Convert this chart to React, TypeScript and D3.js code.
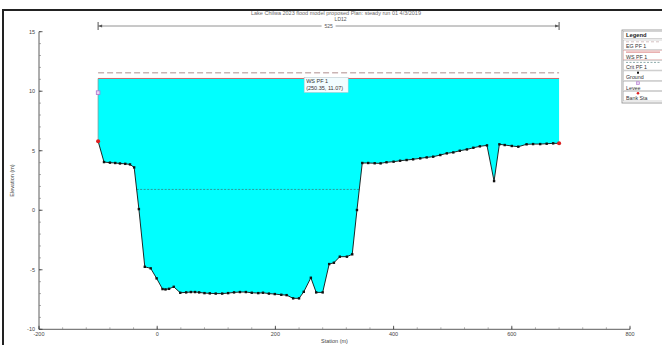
import React from "react";
import * as d3 from "d3";

// Cross-section survey: station (m) and ground elevation (m)
const groundStation = [
  -100, -90, -80, -71, -63, -54, -46, -39, -31, -21, -11, -1, 9, 14, 20, 28, 39, 49, 57, 64, 71, 80, 89, 99,
  110, 120, 130, 140, 150, 160, 171, 179, 189, 199, 210, 219, 230, 240, 248, 260, 269, 280, 291, 299, 309,
  321, 330, 338, 347, 357, 368, 378, 388, 400, 411, 422, 433, 445, 456, 467, 479, 490, 501, 512, 524, 535,
  546, 558, 570, 579, 588, 600, 611, 625, 636, 648, 659, 670, 680,
];
const groundElev = [
  5.8, 4.05, 4.0, 3.97, 3.93, 3.9, 3.85, 3.6, 0.1, -4.75, -4.88, -5.72, -6.62, -6.65, -6.6, -6.43, -6.93,
  -6.9, -6.87, -6.87, -6.9, -6.96, -6.98, -7.0, -7.0, -6.96, -6.9, -6.87, -6.87, -6.93, -6.96, -6.93, -7.0,
  -7.04, -7.1, -7.13, -7.4, -7.4, -6.85, -5.67, -6.9, -6.9, -4.52, -4.41, -3.9, -3.9, -3.7, 0.02, 3.97,
  3.97, 3.95, 3.94, 4.03, 4.08, 4.16, 4.22, 4.28, 4.36, 4.44, 4.5, 4.64, 4.78, 4.86, 5.0, 5.11, 5.25, 5.37,
  5.45, 2.45, 5.54, 5.48, 5.4, 5.34, 5.54, 5.56, 5.56, 5.59, 5.62, 5.62,
];

// Profile results
const wsElev = 11.07;
const egElev = 11.55;
const critElev = 1.75;
const probeStation = 250.35;

// Markers
const bankStations = [-100, 680];
const leveeStation = [-100];
const leveeElev = [9.88];

// Axes
const xTicks = [-200, 0, 200, 400, 600, 800];
const yTicks = [-10, -5, 0, 5, 10, 15];

const legendItems = ["EG PF 1", "WS PF 1", "Crit PF 1", "Ground", "Levee", "Bank Sta"];

const titleText = "Lake Chilwa 2023 flood model proposed       Plan: steady run 01   4/3/2019";
const reachLabel = "LD12";
const widthLabel = "525";

const FONT = "'Liberation Sans', Arial, sans-serif";

export default function App() {
  const x = d3.scaleLinear().domain([-200, 800]).range([39, 630]);
  const y = d3.scaleLinear().domain([-10, 15]).range([329.3, 31.7]);

  const ground = groundStation.map((s, i) => ({ s, e: groundElev[i] }));
  const first = ground[0];
  const last = ground[ground.length - 1];

  const waterArea = d3
    .area<{ s: number; e: number }>()
    .x((d) => x(d.s))
    .y0((d) => y(d.e))
    .y1(() => y(wsElev))(ground) as string;

  const groundLine = d3
    .line<{ s: number; e: number }>()
    .x((d) => x(d.s))
    .y((d) => y(d.e))(ground) as string;

  // where the critical depth line meets the channel banks
  const crossings: number[] = [];
  for (let i = 1; i < ground.length; i++) {
    const a = ground[i - 1];
    const b = ground[i];
    if ((a.e - critElev) * (b.e - critElev) < 0) {
      crossings.push(a.s + ((critElev - a.e) / (b.e - a.e)) * (b.s - a.s));
    }
  }
  const critStart = crossings[0];
  const critEnd = crossings[crossings.length - 1];

  const xMinor = d3.range(-200, 801, 40);
  const yMinor = d3.range(-10, 15.01, 1);

  const dimY = 26;
  const dimX0 = x(first.s);
  const dimX1 = x(last.s);
  const dimMid = (dimX0 + dimX1) / 2;

  return (
    <div style={{ position: "fixed", left: 0, top: 0, width: 662, height: 345, background: "#fff" }}>
      <svg width={662} height={345} style={{ display: "block", fontFamily: FONT }}>
        <rect x={0} y={0} width={662} height={345} fill="#fff" />

        {/* window frame */}
        <line x1={2} x2={662} y1={10} y2={10} stroke="#222" strokeWidth={2} />
        <line x1={3} x2={3} y1={10} y2={345} stroke="#222" strokeWidth={2} />

        {/* title */}
        <text x={336} y={15} fontSize={5.5} fill="#6a6a6a" textAnchor="middle">
          {titleText}
        </text>

        {/* reach name and width dimension */}
        <text x={dimMid + 12} y={21} fontSize={5} fill="#555" textAnchor="middle">
          {reachLabel}
        </text>
        <line x1={dimX0} x2={dimX1} y1={dimY} y2={dimY} stroke="#777" strokeWidth={0.8} />
        <line x1={dimX0} x2={dimX0} y1={dimY - 4} y2={dimY + 4} stroke="#555" strokeWidth={1} />
        <line x1={dimX1} x2={dimX1} y1={dimY - 4} y2={dimY + 4} stroke="#555" strokeWidth={1} />
        <path d={`M${dimX0},${dimY} l4,-1.5 l0,3 z`} fill="#555" />
        <path d={`M${dimX1},${dimY} l-4,-1.5 l0,3 z`} fill="#555" />
        <rect x={dimMid - 7} y={dimY - 3} width={14} height={6} fill="#fff" />
        <text x={dimMid} y={dimY + 2} fontSize={5} fill="#555" textAnchor="middle">
          {widthLabel}
        </text>

        {/* water */}
        <path d={waterArea} fill="#00ffff" stroke="none" />
        <line
          x1={x(first.s)}
          x2={x(first.s)}
          y1={y(wsElev)}
          y2={y(first.e)}
          stroke="#7a9a9a"
          strokeWidth={0.8}
        />

        {/* energy grade */}
        <line
          x1={x(first.s)}
          x2={x(last.s)}
          y1={y(egElev)}
          y2={y(egElev)}
          stroke="#c9b3b3"
          strokeWidth={1.3}
          strokeDasharray="6,3"
        />
        {/* water surface */}
        <line
          x1={x(first.s)}
          x2={x(last.s)}
          y1={y(wsElev)}
          y2={y(wsElev)}
          stroke="#d05a5a"
          strokeWidth={0.9}
        />
        {/* critical depth */}
        <line
          x1={x(critStart)}
          x2={x(critEnd)}
          y1={y(critElev)}
          y2={y(critElev)}
          stroke="#3d6f6f"
          strokeWidth={0.7}
          strokeDasharray="2,1.5"
        />

        {/* ground */}
        <path d={groundLine} fill="none" stroke="#111" strokeWidth={0.9} />
        {ground.map((d, i) => (
          <rect key={i} x={x(d.s) - 1.2} y={y(d.e) - 1.2} width={2.4} height={2.4} fill="#111" />
        ))}

        {/* levee */}
        {leveeStation.map((s, i) => (
          <rect
            key={i}
            x={x(s) - 1.8}
            y={y(leveeElev[i]) - 1.8}
            width={3.6}
            height={3.6}
            fill="#e6d6f0"
            stroke="#b070d0"
            strokeWidth={0.8}
          />
        ))}

        {/* bank stations */}
        {bankStations.map((s, i) => {
          const g = ground.find((d) => d.s === s)!;
          return <circle key={i} cx={x(s)} cy={y(g.e)} r={2} fill="#e02020" />;
        })}

        {/* probe readout */}
        <rect
          x={x(probeStation) - 1}
          y={y(wsElev) - 1}
          width={44}
          height={15}
          fill="#f2fdff"
          stroke="#b0c0c8"
          strokeWidth={0.5}
        />
        <text x={x(probeStation) + 1} y={y(wsElev) + 5} fontSize={5.5} fill="#333">
          WS PF 1
        </text>
        <text x={x(probeStation) + 1} y={y(wsElev) + 11.5} fontSize={5.5} fill="#333">
          ({probeStation.toFixed(2)}, {wsElev.toFixed(2)})
        </text>

        {/* axes */}
        <line x1={x(-200)} x2={x(-200)} y1={y(15)} y2={y(-10)} stroke="#333" strokeWidth={0.8} />
        <line x1={x(-200)} x2={x(800)} y1={y(-10)} y2={y(-10)} stroke="#333" strokeWidth={0.8} />
        {yMinor.map((v) => (
          <line key={`ym${v}`} x1={x(-200)} x2={x(-200) + 2} y1={y(v)} y2={y(v)} stroke="#777" strokeWidth={0.6} />
        ))}
        {xMinor.map((v) => (
          <line key={`xm${v}`} x1={x(v)} x2={x(v)} y1={y(-10)} y2={y(-10) - 2} stroke="#777" strokeWidth={0.6} />
        ))}
        {yTicks.map((v) => (
          <g key={`yt${v}`}>
            <line x1={x(-200)} x2={x(-200) + 3.5} y1={y(v)} y2={y(v)} stroke="#333" strokeWidth={0.8} />
            <text x={x(-200) - 4} y={y(v) + 2} fontSize={5.5} fill="#444" textAnchor="end">
              {v}
            </text>
          </g>
        ))}
        {xTicks.map((v) => (
          <g key={`xt${v}`}>
            <line x1={x(v)} x2={x(v)} y1={y(-10)} y2={y(-10) - 3.5} stroke="#333" strokeWidth={0.8} />
            <text x={x(v)} y={y(-10) + 7} fontSize={5.5} fill="#444" textAnchor="middle">
              {v}
            </text>
          </g>
        ))}
        <text
          transform={`translate(14, ${(y(15) + y(-10)) / 2}) rotate(-90)`}
          fontSize={5.5}
          fill="#444"
          textAnchor="middle"
        >
          Elevation (m)
        </text>
        <text x={(x(-200) + x(800)) / 2} y={343} fontSize={5.5} fill="#444" textAnchor="middle">
          Station (m)
        </text>

        {/* legend */}
        <g>
          <rect x={622} y={30} width={46} height={73} fill="#fff" stroke="#888" strokeWidth={0.8} />
          <rect x={623.5} y={31.5} width={43} height={7} fill="#fff" stroke="#aaa" strokeWidth={0.5} />
          <text x={626} y={37} fontSize={5.8} fill="#222" fontWeight="bold">
            Legend
          </text>
          {legendItems.map((name, i) => {
            const top = 40 + i * 10.3;
            const border = name === "WS PF 1" ? "#d49a9a" : "#aaa";
            return (
              <g key={name}>
                <rect x={623.5} y={top} width={43} height={9.5} fill="#fff" stroke={border} strokeWidth={0.5} />
                {name === "EG PF 1" && (
                  <line x1={626} x2={660} y1={top + 1.8} y2={top + 1.8} stroke="#c9b3b3" strokeDasharray="3,2" strokeWidth={0.8} />
                )}
                {name === "WS PF 1" && (
                  <line x1={626} x2={660} y1={top + 1.8} y2={top + 1.8} stroke="#d05a5a" strokeWidth={0.8} />
                )}
                {name === "Crit PF 1" && (
                  <line x1={626} x2={660} y1={top + 1.8} y2={top + 1.8} stroke="#3d6f6f" strokeDasharray="2,1.5" strokeWidth={0.6} />
                )}
                {name === "Ground" && (
                  <rect x={637} y={top + 0.8} width={2} height={2} fill="#111" />
                )}
                {name === "Levee" && (
                  <rect x={636.6} y={top + 0.6} width={2.8} height={2.8} fill="#e6d6f0" stroke="#b070d0" strokeWidth={0.6} />
                )}
                {name === "Bank Sta" && <circle cx={638} cy={top + 1.8} r={1.3} fill="#e02020" />}
                <text x={626} y={top + 8.3} fontSize={5.3} fill="#333">
                  {name}
                </text>
              </g>
            );
          })}
        </g>
      </svg>
    </div>
  );
}
